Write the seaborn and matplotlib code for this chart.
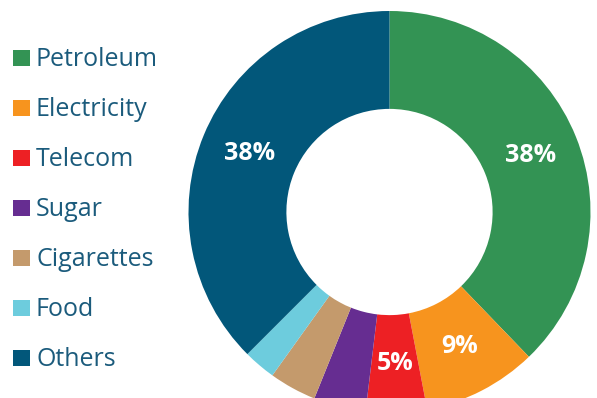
import matplotlib
matplotlib.use("Agg")
import matplotlib.pyplot as plt
from matplotlib.patches import Rectangle
import seaborn as sns

# Share of total by sector (percent)
categories = ["Petroleum", "Electricity", "Telecom", "Sugar", "Cigarettes", "Food", "Others"]
shares = [37.8, 9.2, 4.9, 4.2, 3.8, 2.6, 37.5]
colors = ["#339354", "#F7941E", "#ED2024", "#662D91", "#C49A6C", "#6DCCDD", "#02577A"]

sns.set_theme(style="white")
plt.rcParams["font.family"] = ["Open Sans", "DejaVu Sans"]

W, H = 597, 398
fig = plt.figure(figsize=(W / 100, H / 100), dpi=100)
fig.patch.set_facecolor("white")

# donut axes: centre (389.5, 212) px from top-left, radius 201 px
cx, cy, r = 389.5, 212, 201
ax = fig.add_axes([(cx - r) / W, (H - cy - r) / H, 2 * r / W, 2 * r / H])


def pct_label(p):
    return f"{p:.0f}%" if p >= 4.5 else ""


wedges, texts, autotexts = ax.pie(
    shares,
    colors=colors,
    startangle=90,
    counterclock=False,
    radius=1.0,
    autopct=pct_label,
    pctdistance=0.755,
    wedgeprops=dict(width=0.487, linewidth=0),
    textprops=dict(color="white", fontsize=18, fontweight="bold"),
)
ax.set_xlim(-1, 1)
ax.set_ylim(-1, 1)
ax.set_aspect("equal")
ax.axis("off")

# legend column on the left
text_color = "#1B5B7C"
for i, (name, col) in enumerate(zip(categories, colors)):
    top = 50 + 50 * i
    fig.patches.append(Rectangle((13.3 / W, 1 - (top + 16) / H), 16.7 / W, 16 / H,
                                 transform=fig.transFigure, facecolor=col,
                                 edgecolor="none", figure=fig))
    fig.text(36 / W, 1 - (top + 16.5) / H, name, fontsize=18, color=text_color,
             ha="left", va="baseline")

fig.savefig("out.png", dpi=100)
